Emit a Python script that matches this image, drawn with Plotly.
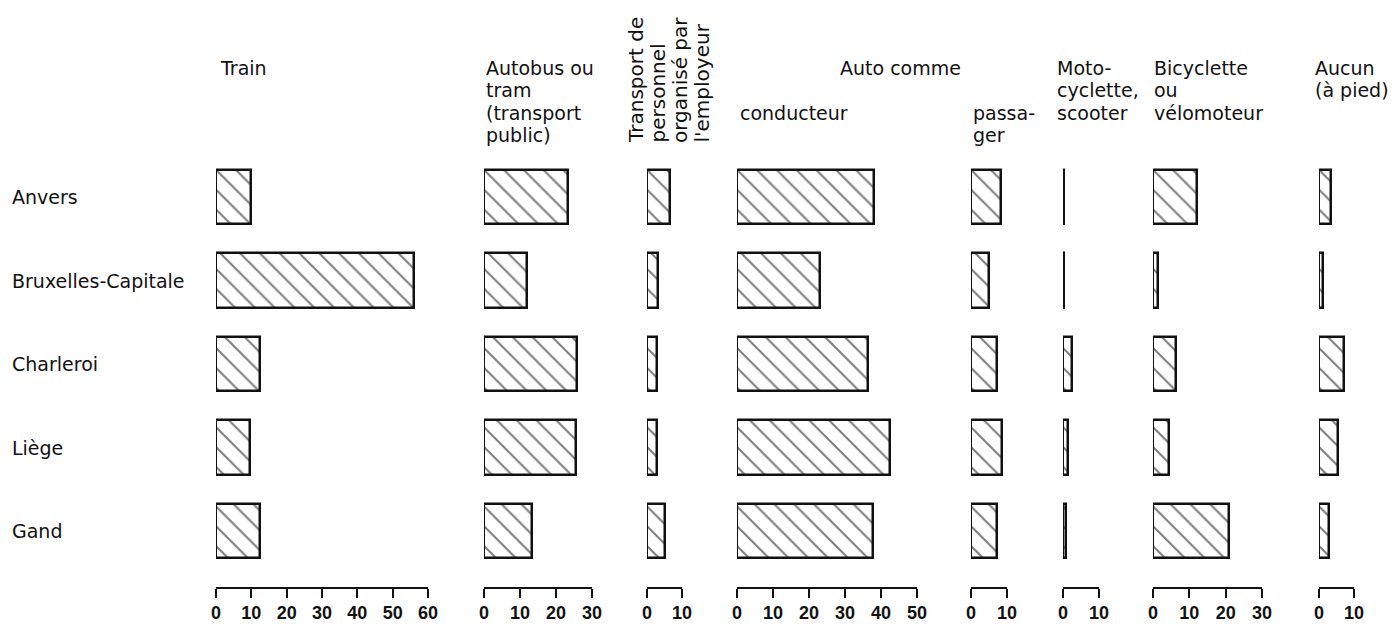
import plotly.graph_objects as go

# ---------------- data ----------------
cities = ["Anvers", "Bruxelles-Capitale", "Charleroi", "Liège", "Gand"]

train = [10, 56, 12.5, 9.5, 12.5]
autobus_tram = [23.3, 12, 25.8, 25.5, 13.3]
transport_personnel = [6.5, 3.1, 2.8, 2.9, 5.2]
auto_conducteur = [38, 23, 36.4, 42.6, 37.7]
auto_passager = [8.3, 5, 7.1, 8.7, 7.1]
motocyclette = [0.2, 0.2, 2.6, 1.4, 0.7]
bicyclette = [12, 1.4, 6.3, 4.3, 21]
aucun = [3.3, 1.2, 7, 5.5, 2.9]

axis_max = [60, 30, 10, 50, 10, 10, 30, 10]

# ---------------- layout helpers ----------------
PAGE_OFF = 8          # default body margin of the html page
W, H = 1392, 618      # figure size (page minus body margin)
panels = [train, autobus_tram, transport_personnel, auto_conducteur,
          auto_passager, motocyclette, bicyclette, aucun]
# page-pixel position of 0 and of the last tick for each panel axis
axis_px = [(216, 428), (484, 592), (647, 682), (737, 917),
           (971, 1007), (1063, 1099), (1153, 1262), (1319, 1354)]

y_top_px, y_bot_px = 150, 587
row0, row_step = 197, 83.5

TEXT_FONT = dict(family="DejaVu Sans, Liberation Sans, Arial, sans-serif", size=19, color="#111111")
ROT_FONT = dict(family="DejaVu Sans, Liberation Sans, Arial, sans-serif", size=20, color="#111111")
TICK_FONT = dict(family="Liberation Sans, Arial, sans-serif",
                 size=18, color="#111111", weight="bold")


def px_x(x):
    return (x - PAGE_OFF) / W


def px_y(y):
    return 1 - (y - PAGE_OFF) / H


fig = go.Figure()
layout = dict(
    width=W, height=H,
    margin=dict(l=0, r=0, t=0, b=0),
    paper_bgcolor="white", plot_bgcolor="white",
    showlegend=False,
    bargap=0,
)

for k, (vals, mx, (a, b)) in enumerate(zip(panels, axis_max, axis_px), start=1):
    xname = "x" if k == 1 else f"x{k}"
    fig.add_trace(go.Bar(
        x=vals, y=cities, orientation="h",
        xaxis=xname, yaxis="y",
        width=0.65,
        cliponaxis=False,
        marker=dict(
            color="white",
            line=dict(color="#111111", width=2.5),
            pattern=dict(shape="\\", fgcolor="#000000", bgcolor="white",
                         size=14, solidity=0.15),
        ),
        hoverinfo="x+y",
    ))
    ticks = list(range(0, mx + 1, 10))
    layout["xaxis" if k == 1 else f"xaxis{k}"] = dict(
        domain=[px_x(a), px_x(b)],
        range=[0, mx],
        anchor="y",
        showline=True, linecolor="#111111", linewidth=1.5,
        ticks="outside", ticklen=9, tickwidth=1.5, tickcolor="#111111",
        tickvals=ticks, ticktext=[str(t) for t in ticks],
        tickfont=TICK_FONT,
        ticklabelstandoff=0,
        showgrid=False, zeroline=False,
        automargin=False, fixedrange=True,
    )

layout["yaxis"] = dict(
    domain=[px_y(y_bot_px), px_y(y_top_px)],
    type="category",
    categoryorder="array", categoryarray=cities,
    range=[(y_bot_px - row0) / row_step, (y_top_px - row0) / row_step],
    anchor="x",
    showticklabels=False, showgrid=False, zeroline=False, showline=False,
    ticks="", automargin=False, fixedrange=True,
)

annotations = []
# city labels
for c in cities:
    annotations.append(dict(text=c, xref="paper", yref="y", x=px_x(10), y=c,
                            xanchor="left", yanchor="middle", showarrow=False,
                            font=TEXT_FONT))

# header texts (page x px, page y px center, text)
headers = [
    (218, 68, "Train"),
    (484, 68, "Autobus ou"), (484, 90, "tram"), (484, 113, "(transport"), (484, 135, "public)"),
    (838, 68, "Auto comme"),
    (738, 113, "conducteur"),
    (971, 113, "passa-"), (971, 135, "ger"),
    (1055, 68, "Moto-"), (1055, 90, "cyclette,"), (1055, 113, "scooter"),
    (1152, 68, "Bicyclette"), (1152, 90, "ou"), (1152, 113, "vélomoteur"),
    (1313, 68, "Aucun"), (1313, 90, "(à pied)"),
]
for x, y, t in headers:
    annotations.append(dict(text=t, xref="paper", yref="paper", x=px_x(x), y=px_y(y),
                            xanchor="left", yanchor="middle", showarrow=False,
                            font=TEXT_FONT))

# rotated header
rot_lines = ["Transport de", "personnel", "organisé par", "l'employeur"]
for i, t in enumerate(rot_lines):
    annotations.append(dict(text=t, xref="paper", yref="paper",
                            x=px_x(636 + 22 * i), y=px_y(145),
                            xanchor="center", yanchor="bottom", textangle=-90,
                            showarrow=False, font=ROT_FONT))

layout["annotations"] = annotations
fig.update_layout(**layout)
fig.write_html("out.html")
